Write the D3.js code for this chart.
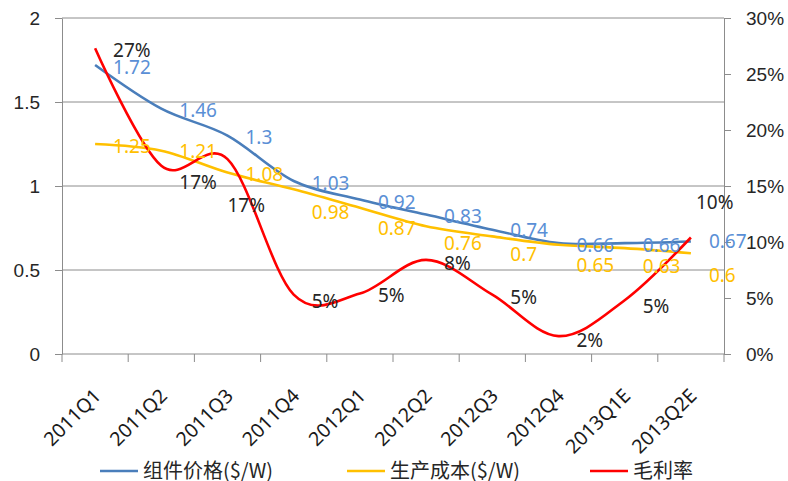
<!DOCTYPE html>
<html>
<head>
<meta charset="utf-8">
<script src="https://cdn.jsdelivr.net/npm/d3@7"></script>
<style>
  body { margin: 0; background: #fff; }
  svg { font-family: "Noto Sans", "Noto Sans CJK SC", sans-serif; }
  .axis path, .axis line { stroke: #8c8c8c; }
  .axis text { fill: #262626; font-size: 19px; }
  .grid line { stroke: #8c8c8c; }
</style>
</head>
<body>
<svg id="chart" width="788" height="481"></svg>
<script>
var quarters = ['2011Q1', '2011Q2', '2011Q3', '2011Q4', '2012Q1', '2012Q2', '2012Q3', '2012Q4', '2013Q1E', '2013Q2E']
var modulePrice = [1.72, 1.46, 1.3, 1.03, 0.92, 0.83, 0.74, 0.66, 0.66, 0.67]
var productionCost = [1.25, 1.21, 1.08, 0.98, 0.87, 0.76, 0.7, 0.65, 0.63, 0.6]
var grossMargin = [0.273, 0.168, 0.174, 0.053, 0.054, 0.084, 0.053, 0.016, 0.048, 0.104]
var priceTicks = [0, 0.5, 1, 1.5, 2]
var marginTicks = [0, 0.05, 0.1, 0.15, 0.2, 0.25, 0.3]
var seriesNames = ['组件价格($/W)', '生产成本($/W)', '毛利率']

// label nudges in px, the way they sit in the original
var priceLabelDy = [2, 2, 2, 2, 3, 2, 1, 2, 2, 0]
var costLabelDy = [2, 1, 2, 23, 21, 17, 18, 21, 18, 22]
var marginLabelDy = [2, 17, 46, 7, 2, 3, 3, 4, 6, -35]
var marginLabelDx = [18, 18, 0, 18, 18, 18, 18, 18, 18, 5]

var blue = '#4a7ebb', yellow = '#ffc000', red = '#ff0000'

// plot box (window.top is taken, so prefix these)
var plotLeft = 62, plotRight = 724, plotTop = 18, plotBottom = 354

var svg = d3.select('#chart')

var x = d3.scaleBand().domain(quarters).range([plotLeft, plotRight]).padding(0)
var y = d3.scaleLinear().domain([0, 2]).range([plotBottom, plotTop])
var y2 = d3.scaleLinear().domain([0, 0.3]).range([plotBottom, plotTop])
var cx = function (d) { return x(d) + x.bandwidth() / 2 }

// gridlines
svg.append('g').attr('class', 'grid')
  .selectAll('line')
  .data(priceTicks.filter(function (d) { return d > 0 }))
  .enter().append('line')
    .attr('x1', plotLeft).attr('x2', plotRight)
    .attr('y1', function (d) { return y(d) }).attr('y2', function (d) { return y(d) })

// left axis
svg.append('g').attr('class', 'axis')
  .attr('transform', 'translate(' + plotLeft + ',0)')
  .call(d3.axisLeft(y).tickValues(priceTicks).tickSize(7).tickSizeOuter(0).tickPadding(15).tickFormat(d3.format('')))

// right axis
svg.append('g').attr('class', 'axis')
  .attr('transform', 'translate(' + plotRight + ',0)')
  .call(d3.axisRight(y2).tickValues(marginTicks).tickSize(7).tickSizeOuter(0).tickPadding(15).tickFormat(d3.format('.0%')))

// bottom axis: ticks between categories
var xAxis = svg.append('g').attr('class', 'axis')
xAxis.append('line')
  .attr('x1', plotLeft).attr('x2', plotRight).attr('y1', plotBottom).attr('y2', plotBottom)
xAxis.selectAll('.tick-mark')
  .data(quarters.map(function (d) { return x(d) }).concat([x.range()[1]]))
  .enter().append('line')
    .attr('x1', function (d) { return d }).attr('x2', function (d) { return d })
    .attr('y1', plotBottom).attr('y2', plotBottom + 8)
xAxis.selectAll('.cat')
  .data(quarters)
  .enter().append('text')
    .attr('text-anchor', 'end')
    .style('font-size', '19.5px')
    .style('fill', '#1a1a1a')
    .attr('transform', function (d) { return 'translate(' + (cx(d) + 7) + ',' + (plotBottom + 43) + ') rotate(-45)' })
    .text(function (d) { return d })

// lines
var line = function (scale, values) {
  return d3.line()
    .x(function (d, i) { return cx(quarters[i]) })
    .y(function (d) { return scale(d) })
    .curve(d3.curveCardinal.tension(0))(values)
}

svg.append('path').attr('d', line(y, modulePrice))
  .attr('fill', 'none').attr('stroke', blue).attr('stroke-width', 2.6)
svg.append('path').attr('d', line(y, productionCost))
  .attr('fill', 'none').attr('stroke', yellow).attr('stroke-width', 2.6)
svg.append('path').attr('d', line(y2, grossMargin))
  .attr('fill', 'none').attr('stroke', red).attr('stroke-width', 2.6)

// data labels
function labels (values, scale, fmt, color, dx, dy) {
  svg.append('g').selectAll('text')
    .data(values)
    .enter().append('text')
      .attr('x', function (d, i) { return cx(quarters[i]) + (dx ? dx[i] : 18) })
      .attr('y', function (d, i) { return scale(d) + dy[i] })
      .attr('dy', '0.35em')
      .style('font-size', '19px')
      .attr('fill', color)
      .text(fmt)
}
labels(modulePrice, y, d3.format(''), '#5a8fd6', null, priceLabelDy)
labels(productionCost, y, d3.format(''), '#ffc000', null, costLabelDy)
labels(grossMargin, y2, d3.format('.0%'), '#262626', marginLabelDx, marginLabelDy)

// legend
var legendX = [100, 347, 590]
var legendColors = [blue, yellow, red]
var legend = svg.append('g').selectAll('g')
  .data(seriesNames)
  .enter().append('g')
    .attr('transform', function (d, i) { return 'translate(' + legendX[i] + ',471)' })
legend.append('line')
  .attr('x1', 0).attr('x2', 38)
  .attr('stroke', function (d, i) { return legendColors[i] })
  .attr('stroke-width', 2.6)
legend.append('text')
  .attr('x', 43).attr('dy', '0.35em')
  .style('font-size', '20px')
  .style('font-family', '"Noto Sans CJK SC", sans-serif')
  .attr('fill', '#262626')
  .text(function (d) { return d })
</script>
</body>
</html>
